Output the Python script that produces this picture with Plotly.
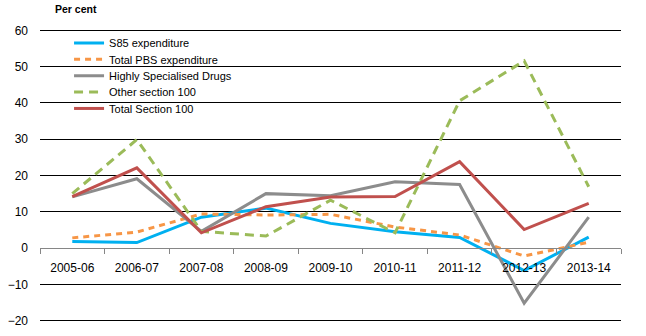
import plotly.graph_objects as go

years = ["2005-06", "2006-07", "2007-08", "2008-09", "2009-10",
         "2010-11", "2011-12", "2012-13", "2013-14"]
s85 = [1.8, 1.5, 8.5, 11.0, 6.8, 4.5, 2.9, -6.2, 3.0]
total_pbs = [2.8, 4.4, 9.4, 9.1, 9.3, 5.8, 3.6, -2.2, 1.6]
hsd = [14.1, 19.1, 4.6, 15.0, 14.4, 18.3, 17.5, -15.2, 8.5]
other_s100 = [15.0, 29.9, 4.6, 3.3, 13.2, 4.2, 40.6, 51.6, 16.9]
total_s100 = [14.2, 22.1, 4.2, 11.4, 14.1, 14.2, 23.8, 5.1, 12.3]
y_ticks = [-20, -10, 0, 10, 20, 30, 40, 50, 60]

W, H = 646, 336
ML, MR, MT, MB = 36, 25, 25, 8
PH = H - MT - MB
YMIN, YMAX = -21.5, 61.5

series = [
    ("S85 expenditure", s85, "#00B0F0", "solid"),
    ("Total PBS expenditure", total_pbs, "#F79646", "6px,5px"),
    ("Highly Specialised Drugs", hsd, "#8C8C8C", "solid"),
    ("Other section 100", other_s100, "#9BBB59", "9px,6px"),
    ("Total Section 100", total_s100, "#C0504D", "solid"),
]
legend_pix = [43, 59.5, 76, 92.5, 109]

fig = go.Figure()
layout_legends = {}
for i, (name, vals, col, dash) in enumerate(series):
    key = "legend" if i == 0 else f"legend{i+1}"
    fig.add_trace(go.Scatter(x=years, y=vals, name=name, mode="lines",
                             line=dict(color=col, width=3, dash=dash),
                             legend=key))
    ypaper = 1 - (legend_pix[i] - MT) / PH
    layout_legends[key] = dict(x=0.05, y=ypaper, xanchor="left", yanchor="middle",
                               bgcolor="rgba(0,0,0,0)", font=dict(size=11),
                               borderwidth=0)

fig.update_layout(
    width=W, height=H,
    margin=dict(l=ML, r=MR, t=MT, b=MB),
    paper_bgcolor="white", plot_bgcolor="white",
    font=dict(family="Liberation Sans, Arial, sans-serif", size=12, color="#000"),
    showlegend=True,
    annotations=[dict(text="<b>Per cent</b>", xref="paper", yref="paper",
                      x=0.022, y=1.0, yshift=16, xanchor="left", yanchor="middle",
                      showarrow=False, font=dict(size=10.5))],
    **layout_legends,
)
fig.update_yaxes(range=[YMIN, YMAX], tickvals=y_ticks, showgrid=True,
                 gridcolor="#000", gridwidth=1, zeroline=False,
                 showline=False, ticks="", tickfont=dict(size=12),
                 ticklabelstandoff=11)
fig.update_xaxes(type="category", range=[-0.5, len(years) - 0.5], anchor="free",
                 position=(0 - YMIN) / (YMAX - YMIN),
                 showgrid=False, showline=True,
                 linecolor="#868686", linewidth=1, ticks="outside",
                 tickson="boundaries", ticklen=5, tickcolor="#868686",
                 tickfont=dict(size=12), zeroline=False, ticklabelstandoff=9)

fig.write_html("out.html")
